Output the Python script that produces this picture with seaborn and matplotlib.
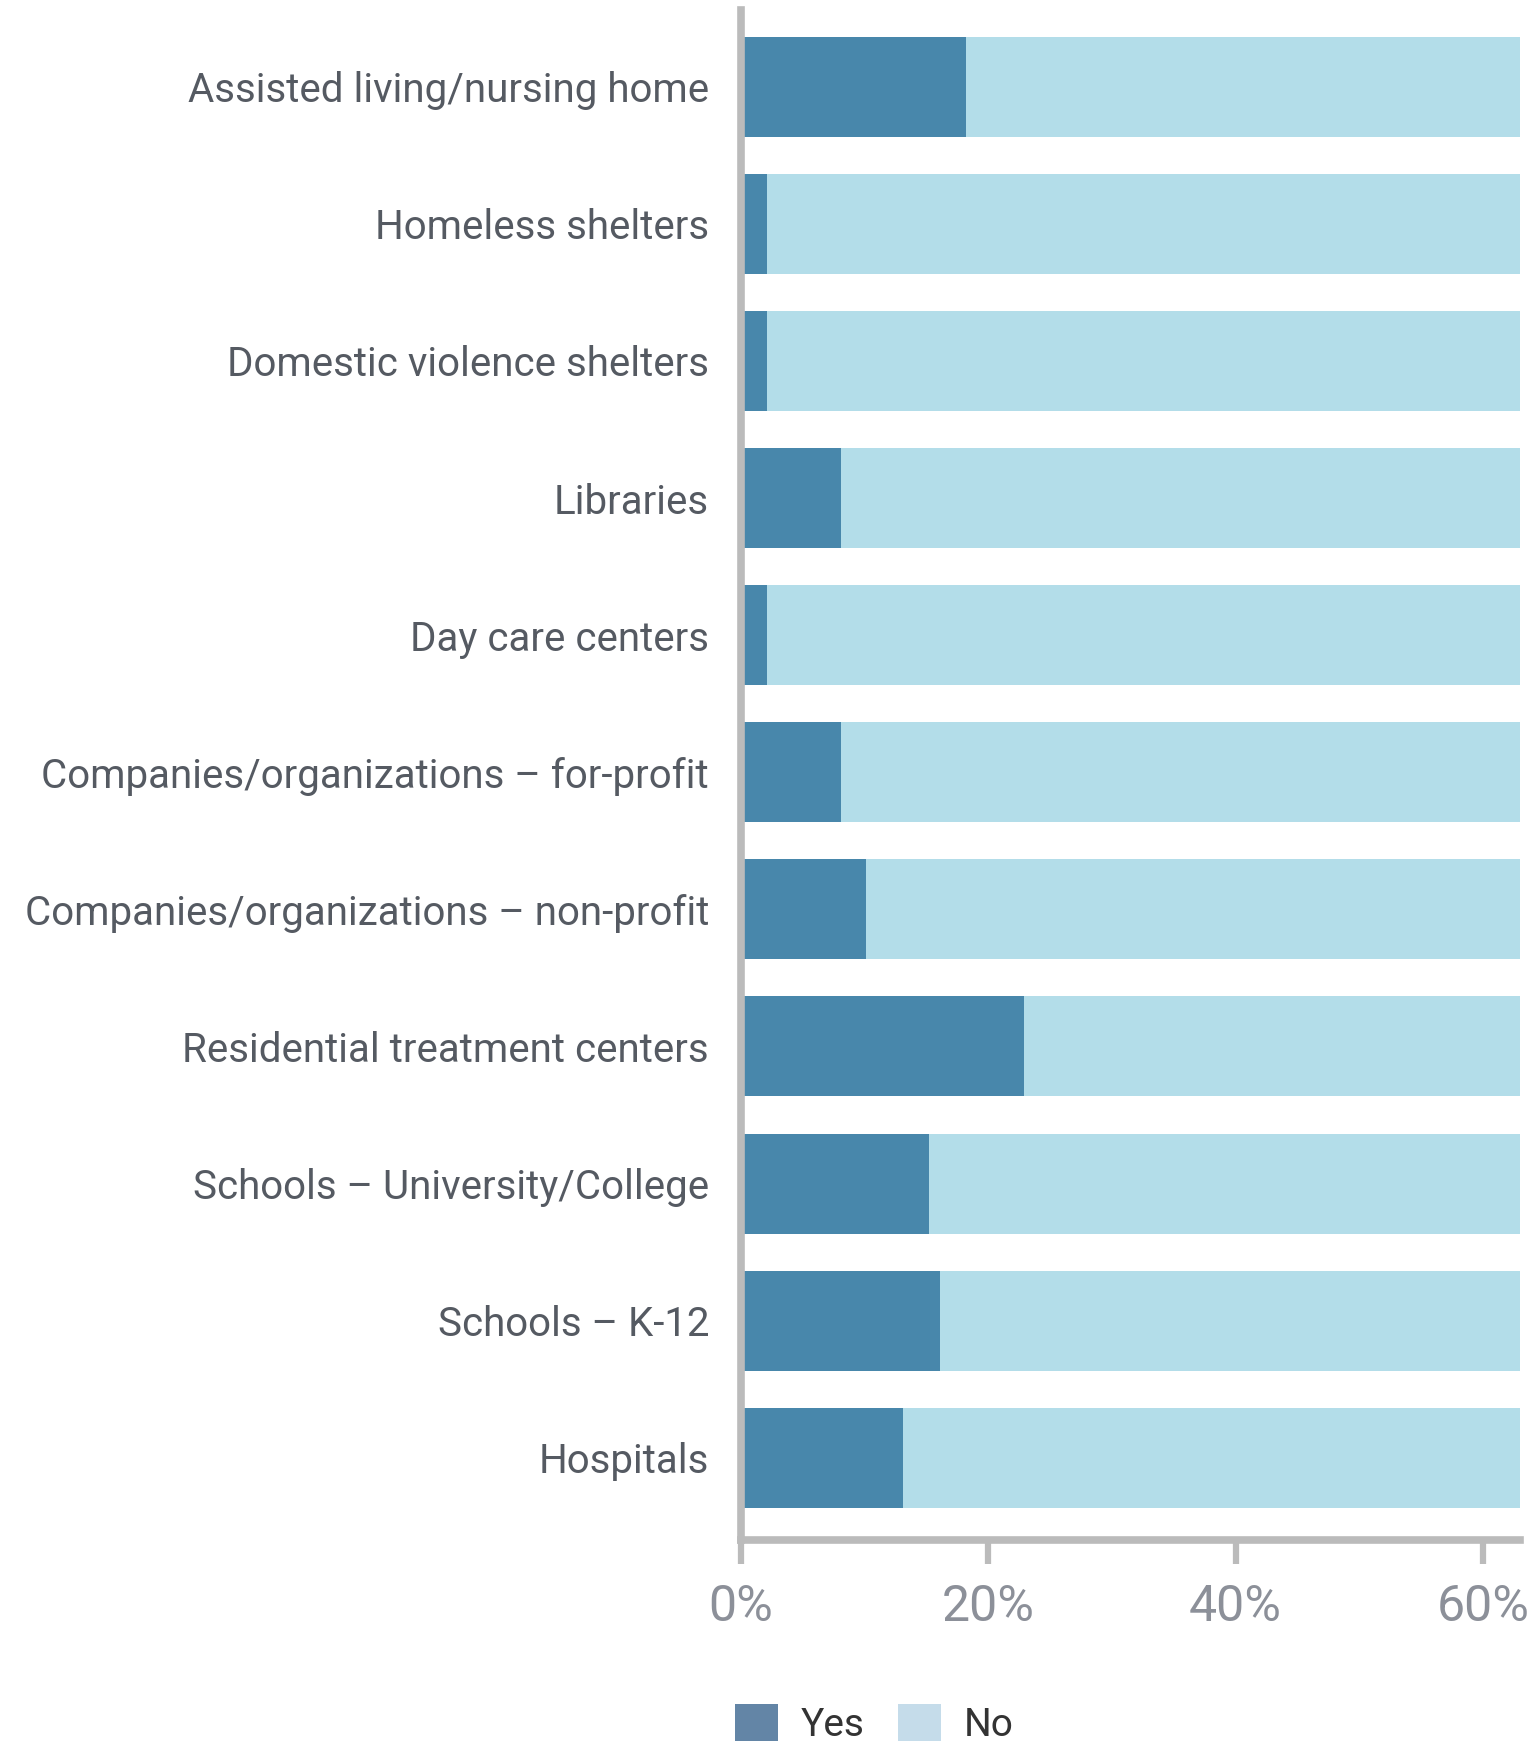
import matplotlib
matplotlib.use("Agg")
import matplotlib.pyplot as plt
import seaborn as sns
import pandas as pd
from matplotlib.patches import Patch
from matplotlib.ticker import FuncFormatter

categories = [
    "Assisted living/nursing home",
    "Homeless shelters",
    "Domestic violence shelters",
    "Libraries",
    "Day care centers",
    "Companies/organizations – for-profit",
    "Companies/organizations – non-profit",
    "Residential treatment centers",
    "Schools – University/College",
    "Schools – K-12",
    "Hospitals",
]
yes_values = [18.2, 2.1, 2.1, 8.1, 2.1, 8.1, 10.1, 22.9, 15.2, 16.1, 13.1]
no_values = [100 - v for v in yes_values]
x_ticks = [0, 20, 40, 60]

YES_COLOR = "#4887ab"
NO_COLOR = "#b3dde9"
LEG_YES = "#6385a6"
LEG_NO = "#c5dcea"
SPINE = "#bbbbbb"

sns.set_theme(style="white")
plt.rcParams['font.family'] = ['Roboto', 'DejaVu Sans']

df = pd.DataFrame({"cat": categories, "yes": yes_values, "no": no_values})
df["total"] = df["yes"] + df["no"]

fig = plt.figure(figsize=(15.37, 17.42), dpi=100)
ax = fig.add_axes([741/1537, 1 - 1540/1742, (1520-741)/1537, (1540-10)/1742])

sns.barplot(data=df, x="total", y="cat", color=NO_COLOR, orient="h",
            width=0.73, saturation=1, linewidth=0, ax=ax)
sns.barplot(data=df, x="yes", y="cat", color=YES_COLOR, orient="h",
            width=0.73, saturation=1, linewidth=0, ax=ax)

ax.set_xlim(0, 63)
ax.set_ylim(10.6, -0.56)
ax.set_xlabel("")
ax.set_ylabel("")
ax.set_xticks(x_ticks)
ax.xaxis.set_major_formatter(FuncFormatter(lambda v, p: f"{v:.0f}%"))

for s in ["top", "right"]:
    ax.spines[s].set_visible(False)
for s in ["left", "bottom"]:
    ax.spines[s].set_color(SPINE)
    ax.spines[s].set_linewidth(5.5)

ax.tick_params(axis="x", which="major", bottom=True, length=17, width=4.5,
               color=SPINE, labelsize=36, labelcolor="#8c9099", pad=14)
ax.tick_params(axis="y", left=False, labelsize=29, labelcolor="#555a62", pad=17)

handles = [Patch(facecolor=LEG_YES, edgecolor="none", label="Yes"),
           Patch(facecolor=LEG_NO, edgecolor="none", label="No")]
fig.legend(handles=handles, loc="lower left", bbox_to_anchor=(700/1537, -0.021),
           ncol=2, frameon=False, fontsize=28, handlelength=1.1, handleheight=1.1,
           handletextpad=0.6, columnspacing=0.85, labelcolor="#333333")

fig.savefig("out.png", dpi=100, facecolor="white")
